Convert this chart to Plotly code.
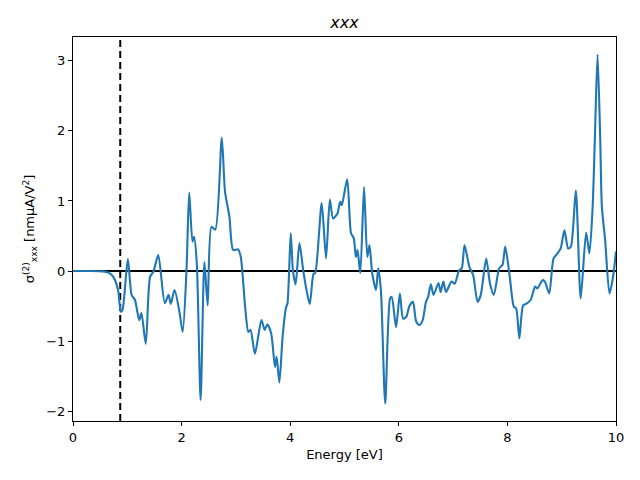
import plotly.graph_objects as go

energy = [0.0, 0.3, 0.55, 0.65, 0.74, 0.83, 0.88, 0.91, 1.01, 1.08, 1.14, 1.22, 1.26, 1.34,
          1.42, 1.48, 1.57, 1.69, 1.76, 1.80, 1.87, 1.96, 2.02, 2.09, 2.14, 2.20, 2.23, 2.28,
          2.35, 2.42, 2.48, 2.55, 2.62, 2.74, 2.80, 2.88, 2.95, 3.04, 3.09, 3.17, 3.23, 3.27,
          3.35, 3.47, 3.53, 3.58, 3.65, 3.72, 3.75, 3.80, 3.86, 3.92, 3.95, 4.01, 4.05, 4.10,
          4.17, 4.24, 4.30, 4.36, 4.43, 4.46, 4.58, 4.66, 4.73, 4.79, 4.87, 4.92, 4.95, 5.05,
          5.12, 5.17, 5.21, 5.24, 5.29, 5.36, 5.42, 5.46, 5.51, 5.58, 5.62, 5.67, 5.75, 5.84,
          5.87, 5.95, 6.02, 6.08, 6.14, 6.19, 6.26, 6.32, 6.38, 6.44, 6.50, 6.54, 6.59, 6.64,
          6.73, 6.77, 6.82, 6.87, 6.97, 7.03, 7.11, 7.16, 7.21, 7.30, 7.37, 7.45, 7.51, 7.61,
          7.68, 7.75, 7.85, 7.91, 7.96, 8.04, 8.12, 8.16, 8.22, 8.29, 8.36, 8.43, 8.51, 8.55,
          8.65, 8.69, 8.77, 8.85, 8.92, 8.98, 9.05, 9.12, 9.17, 9.26, 9.35, 9.45, 9.51, 9.57,
          9.61, 9.66, 9.71, 9.74, 9.80, 9.88, 9.95, 10.0]
sigma = [0.0, 0.0, -0.005, -0.02, -0.08, -0.27, -0.58, -0.56, 0.17, -0.34, -0.41, -0.70, -0.60, -1.04,
         -0.08, -0.01, 0.23, -0.46, -0.34, -0.47, -0.27, -0.58, -0.87, 0.01, 1.12, 0.42, 0.49, 0.11,
         -1.84, 0.13, -0.49, 0.63, 0.59, 1.90, 1.13, 0.78, 0.30, 0.31, 0.20, -0.51, -0.87, -0.84,
         -1.18, -0.70, -0.84, -0.76, -0.89, -1.37, -1.22, -1.59, -0.94, -0.53, -0.46, 0.54, 0.01, -0.19,
         0.40, 0.01, -0.27, -0.47, -0.04, -0.03, 0.97, 0.18, 1.02, 0.75, 0.82, 0.99, 0.94, 1.31,
         0.54, 0.47, 0.20, 0.30, -0.03, 1.20, 0.20, 0.37, -0.03, -0.27, 0.04, -0.27, -1.89, -0.39,
         -0.37, -0.80, -0.32, -0.68, -0.65, -0.51, -0.44, -0.72, -0.77, -0.70, -0.44, -0.37, -0.19, -0.34,
         -0.17, -0.30, -0.15, -0.30, -0.15, -0.18, 0.01, 0.04, 0.37, 0.06, -0.06, -0.44, -0.34, 0.18,
         -0.18, -0.34, 0.04, 0.09, 0.35, -0.06, -0.51, -0.53, -0.96, -0.49, -0.46, -0.41, -0.22, -0.25,
         -0.13, -0.15, -0.32, 0.18, 0.25, 0.32, 0.58, 0.32, 0.35, 1.15, -0.39, 0.55, 0.25, 0.92,
         1.87, 3.09, 1.87, 0.92, 0.44, -0.32, -0.06, 0.28]

gap_energy = 0.87
x_ticks = [0, 2, 4, 6, 8, 10]
y_ticks = [-2, -1, 0, 1, 2, 3]

fig = go.Figure()
fig.add_trace(go.Scatter(x=[0, 10], y=[0, 0], mode="lines",
                         line=dict(color="black", width=2), hoverinfo="skip"))
fig.add_trace(go.Scatter(x=[gap_energy, gap_energy], y=[-2.14, 3.34], mode="lines",
                         line=dict(color="black", width=2, dash="7px,4px"), hoverinfo="skip"))
fig.add_trace(go.Scatter(x=energy, y=sigma, mode="lines",
                         line=dict(color="#1f77b4", width=2.1, shape="spline", smoothing=0.7)))

axis_common = dict(showline=True, linecolor="black", linewidth=1, mirror=True,
                   ticks="outside", ticklen=4, tickcolor="black", showgrid=False,
                   zeroline=False, tickfont=dict(size=13, color="black"))
fig.update_layout(
    width=640, height=480, showlegend=False,
    plot_bgcolor="white", paper_bgcolor="white",
    font=dict(family="DejaVu Sans", color="black", size=13),
    margin=dict(l=73, r=24, t=37, b=59),
    title=dict(text="<i>xxx</i>", x=0.5, xanchor="center", xref="paper",
               y=1 - 22 / 480, yanchor="middle", font=dict(size=16, color="black")),
    xaxis=dict(range=[0, 10], tickvals=x_ticks, title=dict(text="Energy [eV]", font=dict(size=13), standoff=6),
               **axis_common),
    yaxis=dict(range=[-2.14, 3.34], tickvals=y_ticks,
               ticktext=["\u22122", "\u22121", "0", "1", "2", "3"],
               title=dict(text="σ<sup>(2)</sup><sub>xxx</sub> [nmμA/V<sup>2</sup>]", font=dict(size=13), standoff=8),
               **axis_common),
)
fig.write_html("out.html")
